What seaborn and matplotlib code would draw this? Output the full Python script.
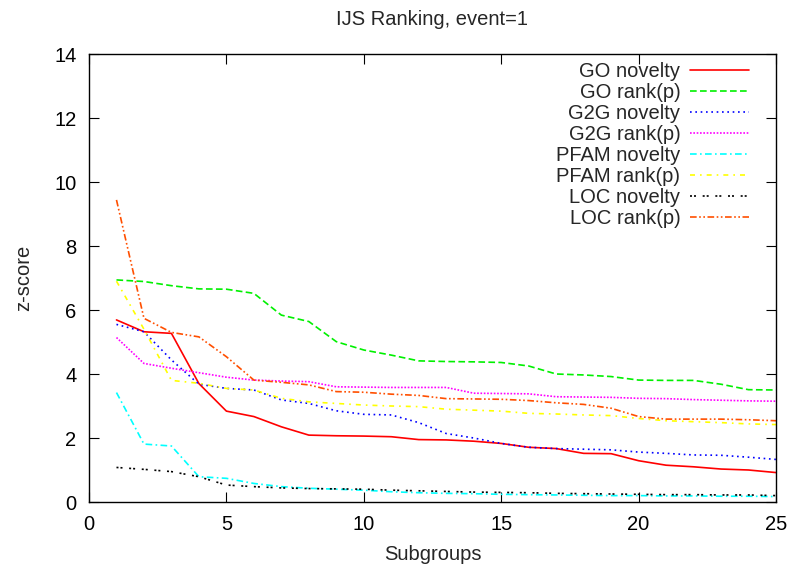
import matplotlib
matplotlib.use("Agg")
import matplotlib.pyplot as plt
import seaborn as sns
import pandas as pd
import numpy as np

subgroups = list(range(1, 26))

go_novelty = [5.69, 5.32, 5.27, 3.70, 2.84, 2.67, 2.35, 2.09, 2.07, 2.06, 2.04, 1.95, 1.94, 1.90,
              1.83, 1.71, 1.67, 1.52, 1.51, 1.29, 1.15, 1.10, 1.03, 1.00, 0.92]
go_rank = [6.94, 6.89, 6.76, 6.66, 6.65, 6.52, 5.84, 5.64, 5.01, 4.75, 4.59, 4.41, 4.39, 4.38,
           4.36, 4.25, 4.00, 3.97, 3.92, 3.81, 3.80, 3.80, 3.68, 3.51, 3.50]
g2g_novelty = [5.55, 5.32, 4.44, 3.68, 3.55, 3.50, 3.19, 3.08, 2.85, 2.74, 2.72, 2.48, 2.14, 2.00,
               1.83, 1.71, 1.67, 1.65, 1.63, 1.56, 1.52, 1.47, 1.46, 1.40, 1.33]
g2g_rank = [5.14, 4.33, 4.18, 4.04, 3.90, 3.81, 3.78, 3.76, 3.60, 3.59, 3.58, 3.58, 3.58, 3.40,
            3.39, 3.38, 3.29, 3.28, 3.27, 3.24, 3.23, 3.20, 3.18, 3.16, 3.15]
pfam_novelty = [3.42, 1.81, 1.75, 0.79, 0.74, 0.58, 0.48, 0.43, 0.40, 0.37, 0.32, 0.29, 0.27, 0.26,
                0.24, 0.23, 0.22, 0.21, 0.20, 0.20, 0.19, 0.19, 0.18, 0.18, 0.17]
pfam_rank = [6.90, 5.40, 3.80, 3.71, 3.55, 3.50, 3.24, 3.13, 3.08, 3.03, 3.00, 2.98, 2.90, 2.87,
             2.84, 2.77, 2.75, 2.72, 2.70, 2.61, 2.54, 2.51, 2.48, 2.44, 2.42]
loc_novelty = [1.08, 1.02, 0.95, 0.79, 0.53, 0.48, 0.44, 0.42, 0.41, 0.40, 0.37, 0.35, 0.33, 0.31,
               0.30, 0.29, 0.27, 0.26, 0.25, 0.24, 0.23, 0.23, 0.22, 0.22, 0.20]
loc_rank = [9.44, 5.74, 5.30, 5.16, 4.54, 3.81, 3.74, 3.66, 3.45, 3.43, 3.37, 3.33, 3.23, 3.22,
            3.21, 3.17, 3.10, 3.05, 2.93, 2.67, 2.59, 2.59, 2.59, 2.57, 2.54]

labels = ["GO novelty", "GO rank(p)", "G2G novelty", "G2G rank(p)",
          "PFAM novelty", "PFAM rank(p)", "LOC novelty", "LOC rank(p)"]
series = [go_novelty, go_rank, g2g_novelty, g2g_rank,
          pfam_novelty, pfam_rank, loc_novelty, loc_rank]
colors = ["#ff0000", "#00f000", "#0000ff", "#ff00ff",
          "#00ffff", "#ffff00", "#000000", "#ff4f00"]
dashes = [(), (4, 2), (1, 2.2), (1, 1), (4, 2, 1, 2), (3, 3, 1, 3), (1.2, 1.2, 1.2, 4), (4, 1.5, 1, 1.5, 1, 1.5)]

sns.set_style("ticks")
plt.rcParams["font.family"] = ["Liberation Sans", "DejaVu Sans"]
FS = 14.5

fig = plt.figure(figsize=(7.91, 5.66), dpi=100)
ax = fig.add_axes([89 / 791, 1 - 502 / 566, (776 - 89) / 791, (502 - 54) / 566])

for lab, vals, col, ds in zip(labels, series, colors, dashes):
    df = pd.DataFrame({"Subgroups": subgroups, "z": vals})
    sns.lineplot(data=df, x="Subgroups", y="z", ax=ax, color=col, lw=1.2, label=lab)
    ln = ax.get_lines()[-1]
    if ds:
        ln.set_dashes(ds)

ax.set_xlim(0, 25)
ax.set_ylim(0, 14)
ax.set_xticks(range(0, 26, 5))
ax.set_yticks(range(0, 15, 2))
ax.tick_params(direction="in", length=7, width=0.8, top=True, right=True,
               labelsize=FS, colors="black")
ax.tick_params(axis="x", pad=9)
ax.tick_params(axis="y", pad=9)
for sp in ax.spines.values():
    sp.set_linewidth(1.0)
    sp.set_color("black")
ax.set_xlabel("Subgroups", fontsize=FS, labelpad=8)
ax.set_ylabel("z-score", fontsize=FS, labelpad=15)
ax.set_title("IJS Ranking, event=1", fontsize=FS, pad=21)

leg = ax.legend(loc="upper right", frameon=False, markerfirst=False, fontsize=FS,
                handlelength=2.9, labelspacing=0.1, handletextpad=0.5,
                bbox_to_anchor=(0.975, 1.005), borderaxespad=0.1)

fig.savefig("out.png", dpi=100)
